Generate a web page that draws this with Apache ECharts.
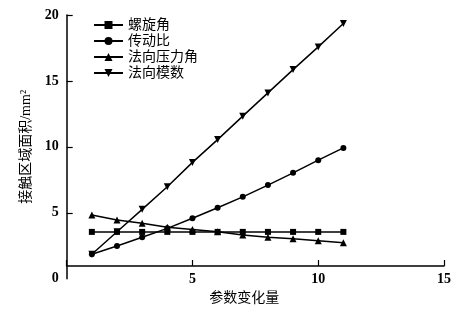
<!DOCTYPE html>
<html><head><meta charset="utf-8">
<script src="https://cdn.jsdelivr.net/npm/echarts@6/dist/echarts.min.js"></script>
<style>html,body{margin:0;padding:0;background:#fff}#c{width:466px;height:312px}</style>
</head><body><div id="c"></div>
<script>
const xValues = [1,2,3,4,5,6,7,8,9,10,11];
const helixAngle = [3.55,3.55,3.55,3.55,3.55,3.55,3.55,3.55,3.55,3.55,3.55];
const gearRatio = [1.85,2.48,3.14,3.82,4.58,5.38,6.21,7.1,8.03,8.99,9.92];
const pressureAngle = [4.83,4.45,4.2,3.9,3.74,3.56,3.31,3.14,3.03,2.88,2.73];
const normalModule = [1.85,3.56,5.26,6.97,8.82,10.55,12.33,14.09,15.86,17.58,19.35];
const seriesNames = ['螺旋角','传动比','法向压力角','法向模数'];
const xTicks = [5,10,15];
const yTicks = [0,5,10,15,20];
const yAxisBottom = 0.963;

const FONT = '"Liberation Serif","Noto Sans CJK SC",serif';
function pairs(vals){ return xValues.map((x,i)=>[x, vals[i]]); }
const mk = (name, data, symbol, size, rot) => ({
  name, type:'line', data: pairs(data), symbol, symbolSize: size, symbolRotate: rot||0,
  lineStyle:{color:'#000', width:1.5}, itemStyle:{color:'#000'}, animation:false, z: 3
});
const chart = echarts.init(document.getElementById('c'), null, {renderer:'canvas'});
chart.setOption({
  backgroundColor:'#fff',
  animation:false,
  grid:{left:66.7, right:22, top:15, bottom:33.3},
  legend:{
    left:93, top:18, padding:0, orient:'vertical', itemGap:2, itemWidth:29, itemHeight:10,
    data: seriesNames,
    textStyle:{fontFamily:FONT, fontSize:14, color:'#000'}
  },
  xAxis:{
    type:'value', min:0, max:15, interval:5, offset:-12.7,
    name:'参数变化量', nameLocation:'middle', nameGap:23,
    nameTextStyle:{fontFamily:FONT, fontSize:14, color:'#000', padding:[0,22,0,0]},
    axisLine:{show:true, lineStyle:{color:'#000', width:1.5}},
    axisTick:{show:true, inside:true, length:6, lineStyle:{color:'#000', width:1.2}},
    axisLabel:{margin:6, fontFamily:FONT, fontSize:14, fontWeight:'bold', color:'#000',
      customValues: xTicks},
    splitLine:{show:false}
  },
  yAxis:[{
    type:'value', min:0, max:20, interval:5,
    name:'接触区域面积/mm²', nameLocation:'middle', nameGap:23,
    nameTextStyle:{fontFamily:FONT, fontSize:14, color:'#000'},
    axisLine:{show:false},
    axisTick:{show:true, inside:true, length:6, customValues:[5,10,15,20], lineStyle:{color:'#000', width:1.2}},
    axisLabel:{margin:8, fontFamily:FONT, fontSize:14, fontWeight:'bold', color:'#000', customValues: yTicks},
    splitLine:{show:false}
  },{
    type:'value', min:yAxisBottom, max:20, position:'left',
    axisLine:{show:true, onZero:false, lineStyle:{color:'#000', width:1.5}},
    axisTick:{show:false}, axisLabel:{show:false}, splitLine:{show:false}
  }],
  series:[
    mk(seriesNames[0], helixAngle, 'rect', 6),
    mk(seriesNames[1], gearRatio, 'circle', 6),
    mk(seriesNames[2], pressureAngle, 'triangle', 7),
    mk(seriesNames[3], normalModule, 'triangle', 7, 180)
  ]
});
</script></body></html>
